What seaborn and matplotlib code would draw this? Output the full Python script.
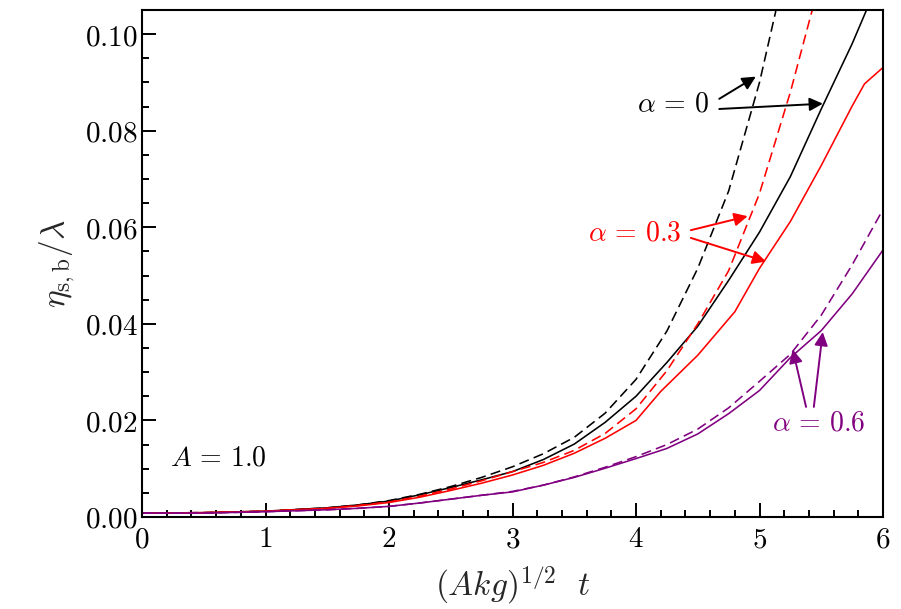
import matplotlib
matplotlib.use("Agg")
import matplotlib.pyplot as plt
import seaborn as sns
import pandas as pd
from matplotlib.ticker import MultipleLocator, FuncFormatter

# ---------------- data ----------------
x_a0_dash = [0, 0.5, 1.0, 1.5, 1.75, 2.0, 2.25, 2.5, 2.75, 3.0, 3.25, 3.5, 3.75, 4.0, 4.25, 4.5,
             4.75, 5.0, 5.25]
y_a0_dash = [0.0008, 0.0009, 0.0012, 0.0019, 0.0025, 0.0034, 0.0047, 0.0063, 0.0082, 0.0104,
             0.0131, 0.0165, 0.0215, 0.0285, 0.0385, 0.0515, 0.0675, 0.0900, 0.1180]

x_a0_solid = [0, 0.5, 1.0, 1.5, 1.75, 2.0, 2.25, 2.5, 2.75, 3.0, 3.25, 3.5, 3.75, 4.0, 4.25, 4.5,
              4.75, 5.0, 5.25, 5.5, 5.75, 6.0]
y_a0_solid = [0.0008, 0.0009, 0.0012, 0.0019, 0.0025, 0.0033, 0.0046, 0.0061, 0.0077, 0.0094,
              0.0119, 0.0151, 0.0196, 0.0250, 0.0320, 0.0395, 0.0490, 0.0590, 0.0705, 0.0845,
              0.0980, 0.1130]

x_a3_dash = [0, 0.5, 1.0, 1.5, 1.75, 2.0, 2.25, 2.5, 2.75, 3.0, 3.25, 3.5, 3.75, 4.0, 4.25, 4.5,
             4.75, 5.0, 5.25, 5.5]
y_a3_dash = [0.0008, 0.0009, 0.0012, 0.0018, 0.0024, 0.0031, 0.0043, 0.0058, 0.0075, 0.0094,
             0.0113, 0.0138, 0.0173, 0.0224, 0.0303, 0.0400, 0.0510, 0.0670, 0.0880, 0.1120]

x_a3_solid = [0, 0.5, 1.0, 1.5, 1.75, 2.0, 2.25, 2.5, 2.75, 3.0, 3.25, 3.5, 3.75, 4.0, 4.2, 4.5,
              4.8, 5.0, 5.25, 5.5, 5.75, 5.85, 6.0]
y_a3_solid = [0.0008, 0.0009, 0.0012, 0.0018, 0.0023, 0.0030, 0.0041, 0.0055, 0.0070, 0.0087,
              0.0107, 0.0132, 0.0163, 0.0200, 0.0260, 0.0335, 0.0425, 0.0515, 0.0612, 0.0728,
              0.0851, 0.0897, 0.0931]

x_a6_dash = [0, 0.5, 1.0, 1.5, 1.75, 2.0, 2.25, 2.5, 2.75, 3.0, 3.25, 3.5, 3.75, 4.0, 4.25, 4.5,
             4.75, 5.0, 5.25, 5.5, 5.75, 6.0]
y_a6_dash = [0.0008, 0.0008, 0.0011, 0.0015, 0.0018, 0.0022, 0.0029, 0.0037, 0.0045, 0.0053,
             0.0066, 0.0083, 0.0103, 0.0125, 0.0150, 0.0182, 0.0226, 0.0281, 0.0337, 0.0418,
             0.0522, 0.0637]

x_a6_solid = [0, 0.5, 1.0, 1.5, 1.75, 2.0, 2.25, 2.5, 2.75, 3.0, 3.25, 3.5, 3.75, 4.0, 4.25, 4.5,
              4.75, 5.0, 5.25, 5.5, 5.75, 6.0]
y_a6_solid = [0.0008, 0.0008, 0.0011, 0.0015, 0.0018, 0.0022, 0.0029, 0.0037, 0.0045, 0.0052,
              0.0066, 0.0082, 0.0101, 0.0121, 0.0142, 0.0172, 0.0214, 0.0262, 0.0330, 0.0386,
              0.0462, 0.0553]

labels_alpha = [r"$\alpha\,=\,0$", r"$\alpha\,=\,0.3$", r"$\alpha\,=\,0.6$"]
label_A = r"$A\,=\,1.0$"
colors = ["black", "#ff0000", "#800080"]

# ---------------- style ----------------
sns.set_style("ticks")
plt.rcParams["mathtext.fontset"] = "cm"
plt.rcParams["font.family"] = ["DejaVu Serif"]

fig = plt.figure(figsize=(9.01, 6.09), dpi=100)
ax = fig.add_axes([142 / 901, 1 - 517 / 609, (883 - 142) / 901, (517 - 10) / 609])

series = [
    (x_a0_dash, y_a0_dash, colors[0], True),
    (x_a0_solid, y_a0_solid, colors[0], False),
    (x_a3_dash, y_a3_dash, colors[1], True),
    (x_a3_solid, y_a3_solid, colors[1], False),
    (x_a6_dash, y_a6_dash, colors[2], True),
    (x_a6_solid, y_a6_solid, colors[2], False),
]
for xs, ys, c, dashed in series:
    df = pd.DataFrame({"x": xs, "y": ys})
    sns.lineplot(data=df, x="x", y="y", ax=ax, color=c, estimator=None, sort=False,
                 linewidth=1.15, linestyle=(0, (6.3, 3.3)) if dashed else "-")

ax.set_xlim(0, 6)
ax.set_ylim(0, 0.105)
ax.xaxis.set_major_locator(MultipleLocator(1))
ax.xaxis.set_minor_locator(MultipleLocator(0.2))
ax.yaxis.set_major_locator(MultipleLocator(0.02))
ax.yaxis.set_minor_locator(MultipleLocator(0.005))
ax.xaxis.set_major_formatter(FuncFormatter(lambda v, p: f"${v:.0f}$"))
ax.yaxis.set_major_formatter(FuncFormatter(lambda v, p: f"${v:.2f}$"))
ax.tick_params(which="both", direction="in", top=False, right=False, width=1.4, colors="black")
ax.tick_params(which="major", length=10, labelsize=21)
ax.tick_params(axis="y", which="major", pad=3)
ax.tick_params(axis="x", which="major", pad=6)
ax.tick_params(which="minor", length=5)
for s in ax.spines.values():
    s.set_linewidth(1.5)
    s.set_color("black")

ax.set_xlabel(r"$(Akg)^{1/2}\ \ t$", fontsize=24, labelpad=7)
ax.set_ylabel(r"$\eta_{\rm s,b}/\lambda$", fontsize=24, labelpad=6)

fs_ann = 20
ap = lambda c: dict(arrowstyle="-|>", color=c, lw=1.4, mutation_scale=20, shrinkA=0, shrinkB=0)

# alpha = 0
ax.text(4.59, 0.0856, labels_alpha[0], color=colors[0], fontsize=fs_ann, ha="right", va="center")
ax.annotate("", xy=(4.97, 0.0912), xytext=(4.674, 0.0866), arrowprops=ap(colors[0]))
ax.annotate("", xy=(5.513, 0.0856), xytext=(4.674, 0.0845), arrowprops=ap(colors[0]))

# alpha = 0.3
ax.text(4.37, 0.0589, labels_alpha[1], color=colors[1], fontsize=fs_ann, ha="right", va="center")
ax.annotate("", xy=(4.904, 0.0623), xytext=(4.444, 0.0594), arrowprops=ap(colors[1]))
ax.annotate("", xy=(5.053, 0.0529), xytext=(4.444, 0.0578), arrowprops=ap(colors[1]))

# alpha = 0.6
ax.text(5.48, 0.0195, labels_alpha[2], color=colors[2], fontsize=fs_ann, ha="center", va="center")
ax.annotate("", xy=(5.269, 0.0347), xytext=(5.377, 0.0228), arrowprops=ap(colors[2]))
ax.annotate("", xy=(5.512, 0.0383), xytext=(5.44, 0.0228), arrowprops=ap(colors[2]))

ax.text(0.227, 0.0122, label_A, color="black", fontsize=fs_ann, ha="left", va="center")

fig.savefig("out.png", dpi=100)
